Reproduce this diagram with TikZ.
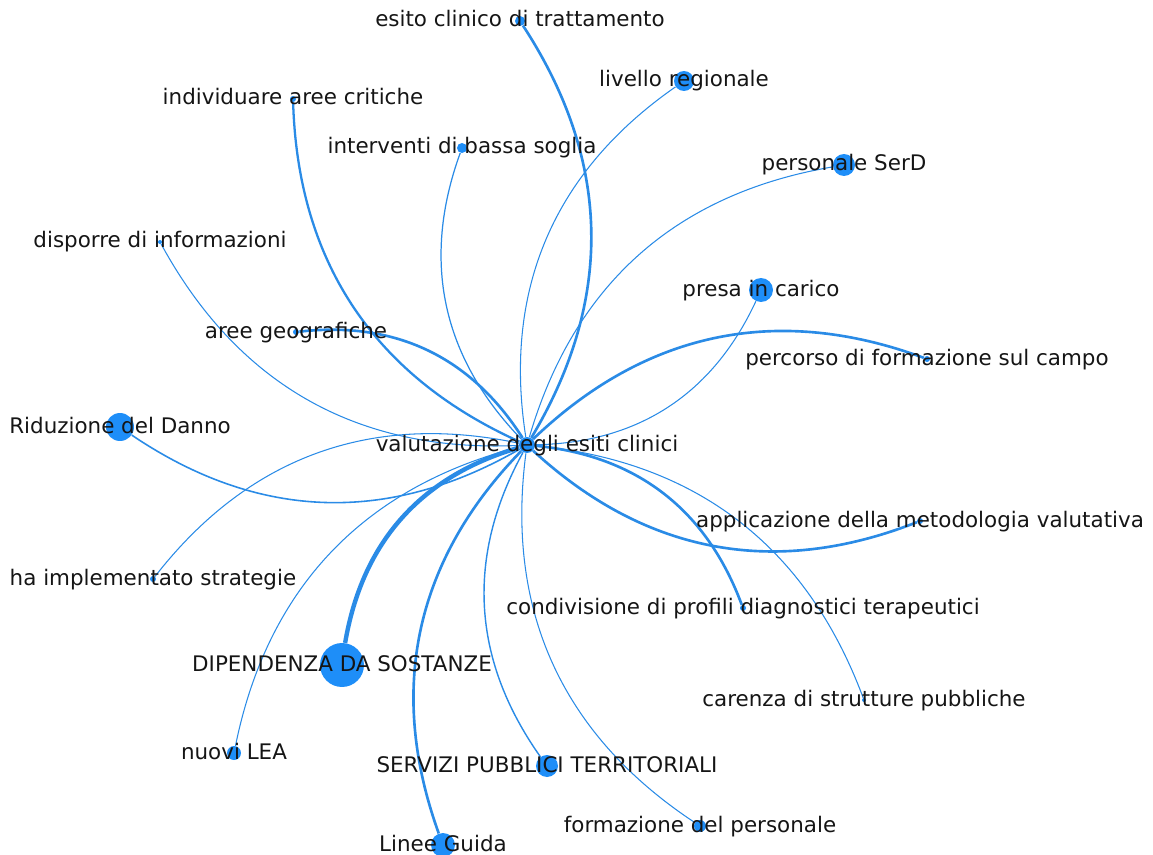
\documentclass[tikz,border=0pt]{standalone}
\usepackage{fontspec}
\setmainfont{DejaVu Sans}
\usepackage{xcolor}
\usepackage{tikz}
\pgfdeclarelayer{bg}
\pgfsetlayers{bg,main}

\definecolor{nodeblue}{HTML}{1E8EF8}
\definecolor{edgeblue}{HTML}{2A8BE6}
\definecolor{labelink}{HTML}{151515}

\begin{document}
\begin{tikzpicture}[x=0.02cm, y=-0.02cm,
		dot/.style={circle, fill=nodeblue, inner sep=0pt, minimum size=#1*0.04cm},
		lbl/.style={text=labelink, inner sep=0pt, anchor=base, font=\fontsize{12.2}{14}\selectfont},
		edge/.style={draw=edgeblue, line width=#1}]
		\useasboundingbox (0,0) rectangle (1153,855);

		\foreach \nm/\px/\py/\rad/\txt in {
				val/527/445/8/valutazione degli esiti clinici,
				esito/520/21/5/esito clinico di trattamento,
				livello/684/81/10/livello regionale,
				individuare/293/99/3/individuare aree critiche,
				interventi/462/148/5/interventi di bassa soglia,
				personale/844/165/11/personale SerD,
				disporre/160/242/2/disporre di informazioni,
				presa/761/290/12/presa in carico,
				aree/296/332/3/aree geografiche,
				percorso/927/359/3/percorso di formazione sul campo,
				riduzione/120/427/14/Riduzione del Danno,
				applicazione/920/521/3/applicazione della metodologia valutativa,
				strategie/153/579/3/ha implementato strategie,
				condivisione/743/608/3/condivisione di profili diagnostici terapeutici,
				dipendenza/342/665/22/DIPENDENZA DA SOSTANZE,
				carenza/864/700/2/carenza di strutture pubbliche,
				lea/234/753/7/nuovi LEA,
				servizi/547/766/11/SERVIZI PUBBLICI TERRITORIALI,
				formazione/700/826/6/formazione del personale,
				linee/443/845/12/Linee Guida} {
				\node[dot=\rad] (\nm) at (\px,\py) {};
				\node[lbl] (\nm-t) at ([yshift=-0.12cm]\nm.center) {\txt};
			}

		\begin{pgfonlayer}{bg}
			\foreach \leaf/\ang/\w in {esito/-32/1.5pt, livello/32/0.6pt, individuare/32/1.3pt,
					interventi/32/0.7pt, personale/32/0.6pt, disporre/32/0.6pt, presa/-32/0.6pt,
					aree/-32/1.5pt, percorso/32/1.5pt, riduzione/32/0.9pt, strategie/-32/0.6pt,
					applicazione/-32/1.5pt, condivisione/32/1.5pt, carenza/32/0.6pt,
					dipendenza/-32/2.5pt, lea/-32/0.6pt, servizi/-32/0.8pt, formazione/-32/0.6pt,
					linee/-32/1.5pt} {
					\draw[edge=\w] (val) to[bend left=\ang] (\leaf);
				}
		\end{pgfonlayer}
	\end{tikzpicture}
\end{document}
